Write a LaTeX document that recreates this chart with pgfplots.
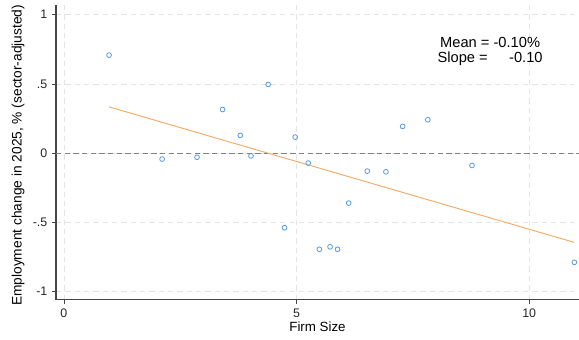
\documentclass[border=0pt]{standalone}
\usepackage{pgfplots}
\pgfplotsset{compat=1.18}
\usepackage{fontspec}
\setmainfont{Liberation Sans}
\definecolor{mk}{RGB}{85,155,225}
\definecolor{fit}{RGB}{245,170,100}
\definecolor{gridc}{RGB}{228,228,228}
\definecolor{axc}{RGB}{70,70,70}
\definecolor{zeroc}{RGB}{130,130,130}

\begin{document}
\begin{tikzpicture}
\begin{axis}[
  name=ax,
  scale only axis,
  width=392pt, height=221pt,
  xmin=-0.17, xmax=11.07,
  ymin=-1.06, ymax=1.07,
  axis x line*=bottom, axis y line*=left,
  axis line style={axc, line width=0.8pt, -},
  xtick={0,5,10},
  ytick={-1,-0.5,0,0.5,1},
  yticklabels={-1,-.5,0,.5,1},
  tick align=outside,
  major tick length=3pt,
  tick style={axc, line width=0.6pt},
  /pgf/number format/assume math mode=true,
  ticklabel style={font=\fontsize{9.3}{11}\selectfont, text=black!85},
  grid=major,
  major grid style={gridc, line width=0.6pt, dash pattern=on 4pt off 3pt},
  xlabel={Firm Size},
  ylabel={Employment change in 2025, \% (sector-adjusted)},
  xlabel style={font=\fontsize{10}{12}\selectfont, at={(axis description cs:0.5,-0.0916)}, anchor=center},
  ylabel style={font=\fontsize{10.3}{12}\selectfont, at={(axis description cs:-0.0727,0.49)}, anchor=center},
  clip=false,
]
% zero reference line
\addplot[zeroc, line width=0.6pt, dash pattern=on 4pt off 2.5pt] coordinates {(-0.17,0) (11.07,0)};

% firm-level observations
\addplot[only marks, mark=o, mark size=1.8pt, mk, mark options={line width=0.6pt}] coordinates {
(0.97,0.708) (2.11,-0.043) (2.86,-0.030) (3.41,0.315) (3.79,0.128)
(4.02,-0.020) (4.39,0.496) (4.97,0.116) (4.74,-0.539) (5.25,-0.072)
(5.49,-0.695) (5.72,-0.677) (5.88,-0.695) (6.12,-0.361) (6.52,-0.130)
(6.92,-0.135) (7.28,0.193) (7.82,0.241) (8.77,-0.089) (10.97,-0.789)
};

% linear fit
\addplot[fit, line width=0.7pt] coordinates {(0.97,0.334) (10.97,-0.645)};

\node[align=center, font=\fontsize{11}{11.25}\selectfont] at (axis cs:9.16,0.733)
  {Mean = -0.10\%\\Slope = \hspace{13pt}-0.10};
\end{axis}
\pgfresetboundingbox
\path ([shift={(-42pt,-30pt)}]ax.south west) rectangle ([shift={(0pt,3.75pt)}]ax.north east);
\end{tikzpicture}
\end{document}
